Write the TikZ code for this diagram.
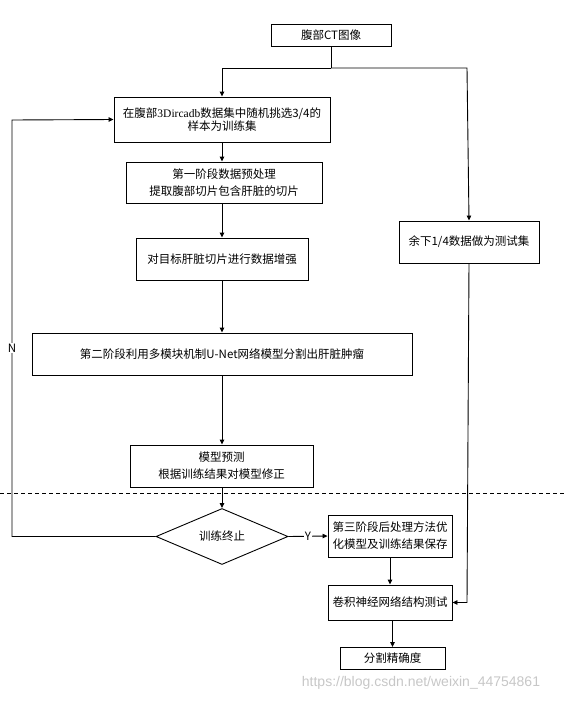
\documentclass[tikz,border=0pt]{standalone}
\usepackage{fontspec}
\setmainfont{Noto Sans CJK SC}
\newfontfamily\latinserif{Liberation Serif}
\newfontfamily\wmfont{Liberation Sans}
\usetikzlibrary{shapes.geometric,arrows.meta}
\begin{document}
\begin{tikzpicture}[x=1pt,y=-1pt,
  every node/.style={font=\fontsize{11.5pt}{17pt}\selectfont},
  box/.style={draw,line width=0.9pt,align=center,inner sep=0pt},
  link/.style={line width=0.9pt},
  arr/.style={line width=0.9pt,-{Triangle[length=5pt,width=4.5pt]}},
  lbl/.style={fill=white,inner sep=1pt}]
\useasboundingbox (0,0) rectangle (564,702);
\node[box,minimum width=120pt,minimum height=22pt] (ct) at (331,35) {腹部CT图像};
\node[box,minimum width=216pt,minimum height=45pt,font=\fontsize{11.5pt}{13.5pt}\selectfont] (train) at (222,119.5) {在腹部{\latinserif 3Dircadb}数据集中随机挑选3/4的\\样本为训练集};
\node[box,minimum width=196pt,minimum height=41pt] (pre) at (224,182.5) {第一阶段数据预处理\\提取腹部切片包含肝脏的切片};
\node[box,minimum width=172pt,minimum height=42pt] (aug) at (222,259) {对目标肝脏切片进行数据增强};
\node[box,minimum width=140pt,minimum height=42pt] (test) at (469,242) {余下1/4数据做为测试集};
\node[box,minimum width=380pt,minimum height=42pt] (seg) at (222,354) {第二阶段利用多模块机制U-Net网络模型分割出肝脏肿瘤};
\node[box,minimum width=183pt,minimum height=42pt] (pred) at (221.5,466) {模型预测\\根据训练结果对模型修正};
\node[draw,line width=0.9pt,diamond,aspect=2.36,minimum width=132pt,minimum height=56pt,inner sep=0pt] (dec) at (222,536.5) {训练终止};
\node[box,minimum width=124pt,minimum height=42pt] (post) at (390,536) {第三阶段后处理方法优\\化模型及训练结果保存};
\node[box,minimum width=124pt,minimum height=35pt] (cnn) at (390,602.5) {卷积神经网络结构测试};
\node[box,minimum width=105pt,minimum height=22pt] (acc) at (392.5,658.5) {分割精确度};
\coordinate (split) at (331,68);
\coordinate (splitL) at (222,68);
\coordinate (splitR) at (467,68);
\coordinate (fbB) at (12,536.5);
\coordinate (fbT) at (12,120);
\coordinate (rB) at (467,602.5);
\draw[link] (ct.south) -- (split);
\draw[arr] (split) -- (splitL) -- (train.north);
\draw[arr] (split) -- (splitR) -- (test.north);
\draw[arr] (train.south) -- (train.south |- pre.north);
\draw[arr] (train.south |- pre.south) -- (train.south |- aug.north);
\draw[arr] (aug.south) -- (aug.south |- seg.north);
\draw[arr] (seg.south) -- (seg.south |- pred.north);
\draw[arr] (dec.north |- pred.south) -- (dec.north);
\draw[arr] (dec.west) -- (fbB) -- (fbT) -- (train.west);
\node[lbl] (nlab) at (12,348) {N};
\draw[arr] (dec.east) -- node[lbl] (ylab) {Y} (post.west);
\draw[arr] (post.south) -- (post.south |- cnn.north);
\draw[arr] (acc.north |- cnn.south) -- (acc.north);
\draw[arr] (test.south) -- (rB) -- (cnn.east);
\draw[line width=0.8pt,dash pattern=on 4pt off 3pt] (0,493) -- (564,493);
\node[font=\wmfont\fontsize{14pt}{16pt}\selectfont,text=black!22] (wm) at (421,683) {https://blog.csdn.net/weixin\_44754861};
\end{tikzpicture}
\end{document}
